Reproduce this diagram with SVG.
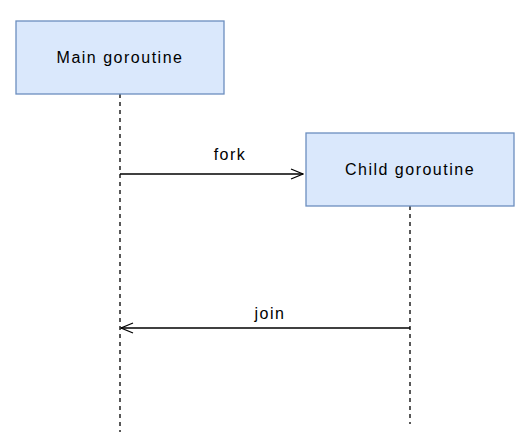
<svg xmlns="http://www.w3.org/2000/svg" width="528" height="446" viewBox="0 0 528 446">
<style>
.box{fill:#dae8fc;stroke:#6c8ebf;stroke-width:1.3}
.life{stroke:#000;stroke-width:1.3;stroke-dasharray:4 4;fill:none}
.msg{stroke:#000;stroke-width:1.3;fill:none}
.t{font-family:"Liberation Sans",Arial,sans-serif;font-size:16px;letter-spacing:1.5px;fill:#000;text-anchor:middle}
</style>
<defs>
<marker id="open" markerWidth="14" markerHeight="12" refX="13" refY="6" orient="auto" markerUnits="userSpaceOnUse">
<path d="M1,1 L13,6 L1,11" fill="none" stroke="#000" stroke-width="1.3"/>
</marker>
</defs>
<rect width="528" height="446" fill="#fff"/>
<g id="connectors">
<line class="life" x1="120" y1="94" x2="120" y2="432"/>
<line class="life" x1="410" y1="206" x2="410" y2="424"/>
<line class="msg" x1="120" y1="174" x2="303" y2="174" marker-end="url(#open)"/>
<line class="msg" x1="410" y1="328" x2="121" y2="328" marker-end="url(#open)"/>
<text class="t" x="230" y="160">fork</text>
<text class="t" x="270" y="319">join</text>
</g>
<g id="main">
<rect class="box" x="16" y="21" width="208" height="73"/>
<text class="t" x="120" y="63">Main goroutine</text>
</g>
<g id="child">
<rect class="box" x="306" y="133" width="208" height="73"/>
<text class="t" x="410" y="175">Child goroutine</text>
</g>
</svg>
